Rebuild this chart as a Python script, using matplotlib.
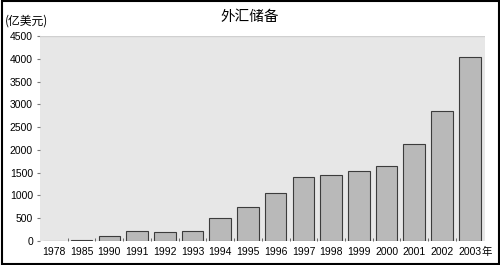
import numpy as np
import matplotlib.pyplot as plt
from matplotlib.patches import Rectangle

years = ['1978', '1985', '1990', '1991', '1992', '1993', '1994', '1995',
         '1996', '1997', '1998', '1999', '2000', '2001', '2002', '2003']
reserves = [1.67, 26, 111, 217, 194, 212, 516, 736,
            1050, 1399, 1450, 1547, 1656, 2122, 2864, 4033]
yticks = [0, 500, 1000, 1500, 2000, 2500, 3000, 3500, 4000, 4500]

cjk = ['Noto Sans CJK SC', 'DejaVu Sans']
num_font = 'Liberation Sans'

fig = plt.figure(figsize=(5, 2.65), dpi=100)
ax = fig.add_axes([0.08, 0.0906, 0.89, 0.773])
ax.set_facecolor('#e7e7e7')

x = np.arange(len(years))
ax.bar(x, reserves, width=0.78, color='#b9b9b9', edgecolor='#3c3c3c', linewidth=0.8)

ax.set_xlim(-0.5, 15.55)
ax.set_ylim(0, 4500)
ax.set_yticks(yticks)
ax.set_yticklabels([str(v) for v in yticks], fontsize=7.5, family=num_font)
ax.set_xticks(x)
ax.set_xticklabels(years, fontsize=7.5, family=num_font)
ax.tick_params(axis='x', length=0, pad=4)
ax.set_xticks(x[:-1] + 0.5, minor=True)
ax.tick_params(axis='x', which='minor', length=2, color='#555555', direction='in')
ax.tick_params(axis='y', length=2, color='#777777', pad=3)
for s in ax.spines.values():
    s.set_visible(False)
ax.axhline(4500, color='#d0d0d0', lw=1)

fig.text(0.5, 0.935, '外汇储备', ha='center', va='center', fontsize=10.5, family=cjk)
fig.text(0.01, 0.92, '(亿美元)', ha='left', va='center', fontsize=8.5, family=cjk)
fig.text(0.963, 0.048, '年', ha='left', va='center', fontsize=7.5, family=cjk)

fig.patches.append(Rectangle((0.003, 0.005), 0.994, 0.99, transform=fig.transFigure,
                             fill=False, edgecolor='black', linewidth=1.5))

fig.savefig('out.png', dpi=100)
